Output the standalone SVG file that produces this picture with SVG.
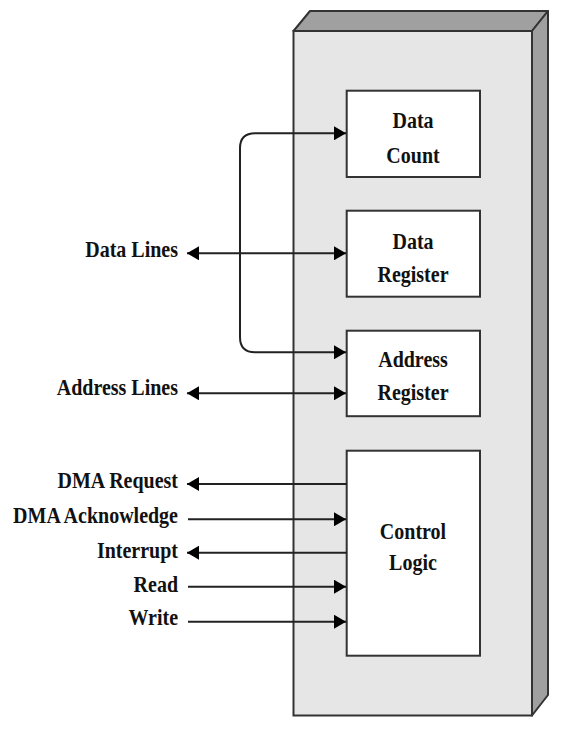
<svg xmlns="http://www.w3.org/2000/svg" width="569" height="737" viewBox="0 0 569 737">
<defs>
<marker id="ah" viewBox="0 0 12 14" refX="12" refY="7" markerWidth="12" markerHeight="14" markerUnits="userSpaceOnUse" orient="auto-start-reverse">
<path d="M0,0 L12,7 L0,14 Z" fill="#000"/>
</marker>
</defs>
<style>
.lbl{font-family:"Liberation Serif","Times New Roman",serif;font-weight:bold;font-size:20px;fill:#111}
.box{fill:#fff;stroke:#333;stroke-width:2}
.ln{fill:none;stroke:#222;stroke-width:2}
</style>
<rect width="569" height="737" fill="#fff"/>
<g id="chassis">
<polygon points="293.5,31 310,11 548,11 532,31" fill="#a0a0a0" stroke="#333" stroke-width="2" stroke-linejoin="round"/>
<polygon points="532,31 548,11 548,695 532,715.5" fill="#a0a0a0" stroke="#333" stroke-width="2" stroke-linejoin="round"/>
<rect x="293.5" y="31" width="238.5" height="684.5" fill="#e6e6e6" stroke="#333" stroke-width="2"/>
</g>
<g id="data-count">
<rect class="box" x="346.7" y="90.7" width="133.3" height="86.3"/>
<text class="lbl" text-anchor="middle" transform="translate(413,128) scale(1,1.2)">Data</text>
<text class="lbl" text-anchor="middle" transform="translate(413,162.5) scale(1,1.2)">Count</text>
</g>
<g id="data-register">
<rect class="box" x="346.7" y="210.7" width="133.3" height="86"/>
<text class="lbl" text-anchor="middle" transform="translate(413,249) scale(1,1.2)">Data</text>
<text class="lbl" text-anchor="middle" transform="translate(413,281.5) scale(1,1.2)">Register</text>
</g>
<g id="address-register">
<rect class="box" x="346.7" y="330.7" width="133.3" height="85.5"/>
<text class="lbl" text-anchor="middle" transform="translate(413,366.5) scale(1,1.2)">Address</text>
<text class="lbl" text-anchor="middle" transform="translate(413,400) scale(1,1.2)">Register</text>
</g>
<g id="control-logic">
<rect class="box" x="346.7" y="450.7" width="133.3" height="205"/>
<text class="lbl" text-anchor="middle" transform="translate(413,539) scale(1,1.2)">Control</text>
<text class="lbl" text-anchor="middle" transform="translate(413,570) scale(1,1.2)">Logic</text>
</g>
<g id="labels">
<text class="lbl" text-anchor="end" transform="translate(178,256.5) scale(1,1.2)">Data Lines</text>
<text class="lbl" text-anchor="end" transform="translate(178,395) scale(1,1.2)">Address Lines</text>
<text class="lbl" text-anchor="end" transform="translate(178,488) scale(1,1.2)">DMA Request</text>
<text class="lbl" text-anchor="end" transform="translate(178,523) scale(1,1.2)">DMA Acknowledge</text>
<text class="lbl" text-anchor="end" transform="translate(178,558) scale(1,1.2)">Interrupt</text>
<text class="lbl" text-anchor="end" transform="translate(178,591.5) scale(1,1.2)">Read</text>
<text class="lbl" text-anchor="end" transform="translate(178,625) scale(1,1.2)">Write</text>
</g>
<g id="connectors">
<path class="ln" d="M346,133.3 H255 Q240,133.3 240,148.3 V337.3 Q240,352.3 255,352.3 H346" marker-start="url(#ah)" marker-end="url(#ah)"/>
<line class="ln" x1="187" y1="253.3" x2="346" y2="253.3" marker-start="url(#ah)" marker-end="url(#ah)"/>
<line class="ln" x1="187" y1="393.3" x2="346" y2="393.3" marker-start="url(#ah)" marker-end="url(#ah)"/>
<line class="ln" x1="347" y1="484" x2="187" y2="484" marker-end="url(#ah)"/>
<line class="ln" x1="188" y1="519.3" x2="346" y2="519.3" marker-end="url(#ah)"/>
<line class="ln" x1="347" y1="552.7" x2="187" y2="552.7" marker-end="url(#ah)"/>
<line class="ln" x1="188" y1="586.7" x2="346" y2="586.7" marker-end="url(#ah)"/>
<line class="ln" x1="188" y1="621.7" x2="346" y2="621.7" marker-end="url(#ah)"/>
</g>
</svg>
